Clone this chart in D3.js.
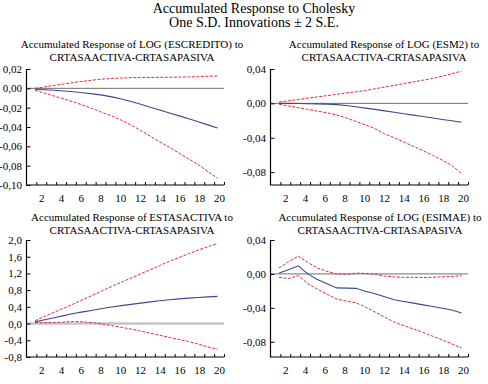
<!DOCTYPE html>
<html>
<head>
<meta charset="utf-8">
<script src="https://cdn.jsdelivr.net/npm/d3@7"></script>
<style>
  html, body { margin: 0; padding: 0; background: #fff; }
  svg { display: block; }
</style>
</head>
<body>
<svg id="chart" width="488" height="384"></svg>
<script>
// ---------------- data ----------------
const periods = [1,2,3,4,5,6,7,8,9,10,11,12,13,14,15,16,17,18,19,20];
const xTickLabels = [2,4,6,8,10,12,14,16,18,20];

const mainTitle = ["Accumulated Response to Cholesky", "One S.D. Innovations \u00b1 2 S.E."];
const impulseName = "CRTASAACTIVA-CRTASAPASIVA";

// Panel 1: LOG (ESCREDITO)
const escreditoTitle = "Accumulated Response of LOG (ESCREDITO) to";
const escreditoTicks = [0.02, 0.00, -0.02, -0.04, -0.06, -0.08, -0.10];
const escreditoResp  = [-0.001,-0.0015,-0.002,-0.0028,-0.0035,-0.0045,-0.0057,-0.007,-0.0088,-0.011,-0.0137,-0.0165,-0.0195,-0.0225,-0.0255,-0.0285,-0.0315,-0.0345,-0.0378,-0.041];
const escreditoUpper = [0.000,0.0015,0.003,0.0045,0.006,0.0073,0.0085,0.0095,0.0102,0.0107,0.011,0.0112,0.0113,0.0114,0.0115,0.0116,0.0118,0.012,0.0125,0.0128];
const escreditoLower = [-0.002,-0.005,-0.008,-0.011,-0.014,-0.0175,-0.021,-0.025,-0.0285,-0.033,-0.038,-0.0435,-0.0495,-0.0555,-0.061,-0.067,-0.073,-0.079,-0.086,-0.093];

// Panel 2: LOG (ESM2)
const esm2Title = "Accumulated Response of LOG (ESM2) to";
const esm2Ticks = [0.04, 0.00, -0.04, -0.08];
const esm2Resp  = [0.000,0.000,-0.0002,-0.0004,-0.0006,-0.0009,-0.0015,-0.0025,-0.004,-0.0055,-0.007,-0.0087,-0.0103,-0.012,-0.0137,-0.0153,-0.017,-0.0187,-0.0203,-0.022];
const esm2Upper = [0.0015,0.003,0.0045,0.006,0.0075,0.009,0.0105,0.012,0.0135,0.015,0.017,0.019,0.021,0.023,0.025,0.027,0.029,0.0315,0.0345,0.0375];
const esm2Lower = [-0.001,-0.003,-0.005,-0.007,-0.009,-0.011,-0.0135,-0.017,-0.021,-0.025,-0.0295,-0.0355,-0.040,-0.045,-0.050,-0.055,-0.0605,-0.066,-0.0725,-0.0815];

// Panel 3: ESTASACTIVA
const estasTitle = "Accumulated Response of ESTASACTIVA to";
const estasTicks = [2.0, 1.6, 1.2, 0.8, 0.4, 0.0, -0.4, -0.8];
const estasResp  = [0.04,0.09,0.14,0.19,0.24,0.28,0.32,0.36,0.395,0.43,0.46,0.49,0.52,0.545,0.57,0.59,0.61,0.625,0.64,0.65];
const estasUpper = [0.07,0.17,0.27,0.37,0.47,0.575,0.68,0.785,0.89,0.99,1.09,1.19,1.29,1.39,1.49,1.58,1.67,1.76,1.84,1.92];
const estasLower = [0.02,0.02,0.025,0.035,0.05,0.04,0.02,-0.01,-0.05,-0.09,-0.13,-0.18,-0.23,-0.28,-0.33,-0.38,-0.43,-0.49,-0.56,-0.62];

// Panel 4: LOG (ESIMAE)
const esimaeTitle = "Accumulated Response of LOG (ESIMAE) to";
const esimaeTicks = [0.04, 0.00, -0.04, -0.08];
const esimaeResp  = [0.001,0.005,0.0095,0.000,-0.0065,-0.0115,-0.0165,-0.0168,-0.017,-0.0205,-0.0235,-0.027,-0.0305,-0.0325,-0.0345,-0.0365,-0.0385,-0.0405,-0.0425,-0.046];
const esimaeUpper = [0.007,0.0145,0.021,0.0135,0.007,0.003,0.000,-0.0005,0.001,0.0005,-0.0005,-0.0025,-0.0035,-0.004,-0.004,-0.0042,-0.004,-0.0035,-0.003,-0.002];
const esimaeLower = [-0.004,-0.0055,-0.002,-0.0115,-0.018,-0.024,-0.0295,-0.032,-0.034,-0.039,-0.045,-0.051,-0.057,-0.061,-0.065,-0.069,-0.0735,-0.078,-0.0825,-0.0875];

// ---------------- font choice: first installed serif face ----------------
function pickFont(cands, fallback) {
  const ctx = document.createElement("canvas").getContext("2d");
  const s = "Accumulated Response mmmwwwiiil 0123456789";
  for (const base of ["monospace", "sans-serif"]) {
    ctx.font = `40px ${base}`;
    const w0 = ctx.measureText(s).width;
    for (const c of cands) {
      ctx.font = `40px "${c}", ${base}`;
      if (Math.abs(ctx.measureText(s).width - w0) > 0.5) return `"${c}"`;
    }
  }
  return fallback;
}
const FONT = pickFont(["Liberation Serif", "Tinos", "Times New Roman", "DejaVu Serif", "Noto Serif", "FreeSerif", "Nimbus Roman", "Times"],
                      '"Liberation Sans", Arial, sans-serif') + ", serif";

// ---------------- drawing ----------------
const svg = d3.select("#chart").attr("font-family", FONT);

svg.selectAll("text.main")
  .data(mainTitle)
  .join("text")
  .attr("class", "main")
  .attr("x", 254)
  .attr("y", (d, i) => 13 + i * 13.5)
  .attr("text-anchor", "middle")
  .attr("font-family", FONT)
  .attr("font-size", 14)
  .text(d => d);

const panels = [
  { title: escreditoTitle, ticks: escreditoTicks, resp: escreditoResp, up: escreditoUpper, lo: escreditoLower,
    x0: 26.5, yTop: 69, yBot: 185, dom: [-0.10, 0.02], fmt: ".2f", tcx: 132, tby: 47.5, zero: "dark" },
  { title: esm2Title, ticks: esm2Ticks, resp: esm2Resp, up: esm2Upper, lo: esm2Lower,
    x0: 270.5, yTop: 69, yBot: 185, dom: [-0.095, 0.04], fmt: ".2f", tcx: 384, tby: 47.5, zero: "dark" },
  { title: estasTitle, ticks: estasTicks, resp: estasResp, up: estasUpper, lo: estasLower,
    x0: 26.5, yTop: 240, yBot: 357, dom: [-0.8, 2.0], fmt: ".1f", tcx: 132, tby: 220.5, zero: "light" },
  { title: esimaeTitle, ticks: esimaeTicks, resp: esimaeResp, up: esimaeUpper, lo: esimaeLower,
    x0: 270.5, yTop: 240, yBot: 357, dom: [-0.098, 0.04], fmt: ".2f", tcx: 380, tby: 220.5, zero: "dark" }
];

const plotW = 197.5;

panels.forEach(p => {
  const g = svg.append("g");
  const x1 = p.x0 + plotW;
  const xAxisScale = d3.scaleLinear().domain([0.5, 20.5]).range([p.x0, x1]);
  const xLine = d3.scaleLinear().domain([1, 20]).range([p.x0 + 8.5, p.x0 + 191]);
  const y = d3.scaleLinear().domain(p.dom).range([p.yBot, p.yTop]);

  // titles
  g.selectAll("text.sub")
    .data([p.title, impulseName])
    .join("text")
    .attr("class", "sub")
    .attr("x", p.tcx)
    .attr("y", (d, i) => p.tby + i * 13.2)
    .attr("text-anchor", "middle")
    .attr("font-family", FONT)
    .attr("font-size", 11)
    .text(d => d);

  // zero line
  g.append("line")
    .attr("x1", p.x0).attr("x2", x1)
    .attr("y1", y(0)).attr("y2", y(0))
    .attr("stroke", p.zero === "light" ? "#c4c4c4" : "#6e6e6e")
    .attr("stroke-width", p.zero === "light" ? 2.5 : 1);

  const fmt = d3.format(p.fmt);
  const yAxis = d3.axisLeft(y)
    .tickValues(p.ticks)
    .tickSizeInner(-4)
    .tickSizeOuter(0)
    .tickPadding(4.5)
    .tickFormat(v => fmt(v).replace(".", ",").replace("\u2212", "-"));
  const yg = g.append("g").attr("transform", `translate(${p.x0},0)`).call(yAxis)
    .attr("font-family", FONT).attr("font-size", 11);
  yg.select(".domain").remove();

  // x ticks at period boundaries
  const tickVals = periods.map(v => v + 0.5);
  const xg = g.append("g").attr("transform", `translate(0,${p.yBot})`)
    .call(d3.axisBottom(xAxisScale).tickValues(tickVals).tickSizeInner(-3).tickSizeOuter(0).tickFormat(""));
  xg.select(".domain").remove();

  // x labels
  const xl = g.append("g").attr("transform", `translate(0,${p.yBot})`)
    .call(d3.axisBottom(xAxisScale).tickValues(xTickLabels).tickSize(0).tickPadding(8.8).tickFormat(d3.format("d")))
    .attr("font-family", FONT).attr("font-size", 11);
  xl.select(".domain").remove();

  // axis lines (left + bottom)
  g.append("path")
    .attr("d", `M${p.x0},${y(p.dom[1])}V${p.yBot}H${x1}`)
    .attr("fill", "none").attr("stroke", "#000").attr("stroke-width", 1.2);

  const line = d3.line().x((d, i) => xLine(periods[i])).y(d => y(d));

  g.append("path").datum(p.up).attr("d", line)
    .attr("fill", "none").attr("stroke", "#e8283a").attr("stroke-width", 1)
    .attr("stroke-dasharray", "3,1.5");
  g.append("path").datum(p.lo).attr("d", line)
    .attr("fill", "none").attr("stroke", "#e8283a").attr("stroke-width", 1)
    .attr("stroke-dasharray", "3,1.5");
  g.append("path").datum(p.resp).attr("d", line)
    .attr("fill", "none").attr("stroke", "#3a4892").attr("stroke-width", 1.1);
});
</script>
</body>
</html>
